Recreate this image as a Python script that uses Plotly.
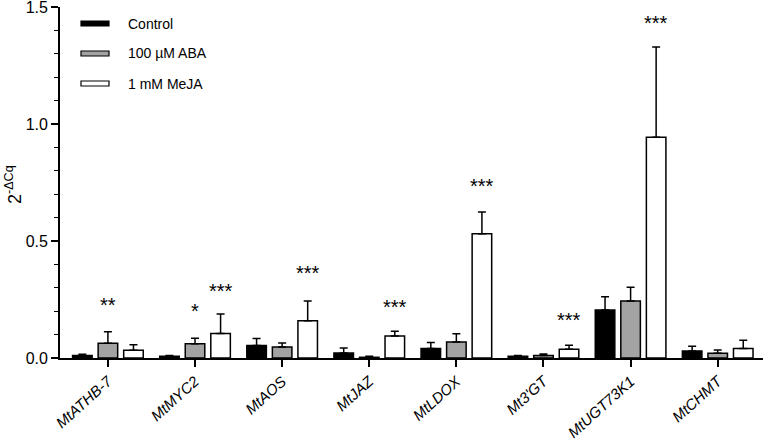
import plotly.graph_objects as go

genes = ["MtATHB-7", "MtMYC2", "MtAOS", "MtJAZ", "MtLDOX", "Mt3'GT", "MtUGT73K1", "MtCHMT"]
series_names = ["Control", "100 µM ABA", "1 mM MeJA"]

control = [0.011, 0.007, 0.053, 0.021, 0.041, 0.007, 0.205, 0.030]
control_err = [0.005, 0.004, 0.030, 0.022, 0.025, 0.004, 0.057, 0.020]
aba = [0.063, 0.061, 0.047, 0.003, 0.068, 0.011, 0.244, 0.020]
aba_err = [0.049, 0.023, 0.017, 0.005, 0.036, 0.006, 0.058, 0.014]
meja = [0.033, 0.105, 0.159, 0.094, 0.531, 0.037, 0.944, 0.041]
meja_err = [0.024, 0.083, 0.085, 0.020, 0.093, 0.017, 0.385, 0.035]

# significance marks: (gene index, series index, text, y position)
sig_gene = [0, 1, 1, 2, 3, 4, 5, 6]
sig_series = [1, 1, 2, 2, 2, 2, 2, 2]
sig_text = ["**", "*", "***", "***", "***", "***", "***", "***"]
sig_y = [0.225, 0.200, 0.285, 0.362, 0.218, 0.735, 0.164, 1.434]

y_ticks = [0.0, 0.5, 1.0, 1.5]
y_ticktext = ["0.0", "0.5", "1.0", "1.5"]

fills = ["#000000", "#a3a3a3", "#ffffff"]
values = [control, aba, meja]
errors = [control_err, aba_err, meja_err]

x_idx = list(range(len(genes)))

fig = go.Figure()
for name, v, e, c in zip(series_names, values, errors, fills):
    fig.add_trace(go.Bar(
        x=x_idx, y=v, name=name, showlegend=False,
        marker=dict(color=c, line=dict(color="#000000", width=1.5)),
        error_y=dict(type="data", array=e, arrayminus=[0] * len(e), symmetric=False,
                     color="#000000", thickness=1.5, width=4),
    ))

# significance stars via offsets
bargap = 0.12
slot = (1 - bargap) / 3
for g, s, t, yv in zip(sig_gene, sig_series, sig_text, sig_y):
    fig.add_annotation(x=g + (s - 1) * slot, y=yv, text=t, showarrow=False,
                       xref="x", yref="y", yanchor="middle",
                       font=dict(size=20, color="#000000", family="Liberation Sans, Arial"))

# manual legend
W, H = 765, 440
ml, mr, mt, mb = 60, 2, 7, 82
pw, ph = W - ml - mr, H - mt - mb
def px(x):
    return (x - ml) / pw
def py(y):
    return (H - mb - y) / ph
for i, (name, c) in enumerate(zip(series_names, fills)):
    yc = 23.5 + 30 * i
    fig.add_shape(type="rect", xref="paper", yref="paper",
                  x0=px(81), x1=px(109), y0=py(yc + 2.5), y1=py(yc - 2.5),
                  fillcolor=c, line=dict(color="#000000", width=1.2))
    fig.add_annotation(xref="paper", yref="paper", x=px(126), y=py(yc), text=name,
                       showarrow=False, xanchor="left", yanchor="middle",
                       font=dict(size=14, color="#000000", family="Liberation Sans, Arial"))

# y-axis title as annotation
fig.add_annotation(xref="paper", yref="paper", x=px(13), y=py(185), text="2<sup>-ΔCq</sup>",
                   showarrow=False, textangle=-90, xanchor="center", yanchor="middle",
                   font=dict(size=18, color="#000000", family="Liberation Sans, Arial"))

fig.update_layout(
    width=W, height=H,
    margin=dict(l=ml, r=mr, t=mt, b=mb),
    paper_bgcolor="white", plot_bgcolor="white",
    barmode="group", bargap=bargap, bargroupgap=0.235,
    font=dict(family="Liberation Sans, Arial", color="#000000", size=14),
    xaxis=dict(
        tickmode="array", tickvals=x_idx, ticktext=genes, automargin=False,
        range=[-0.55, 7.52], showline=True, linecolor="#000000", linewidth=1.8,
        ticks="outside", ticklen=7, tickwidth=1.5, tickcolor="#000000",
        tickangle=-42, tickfont=dict(size=15, style="italic"),
        showgrid=False, zeroline=False, ticklabeloverflow="allow",
    ),
    yaxis=dict(
        range=[0, 1.5005], tickmode="array", tickvals=y_ticks, ticktext=y_ticktext,
        automargin=False, ticklabeloverflow="allow",
        showline=True, linecolor="#000000", linewidth=1.8,
        ticks="outside", ticklen=7, tickwidth=1.5, tickcolor="#000000",
        minor=dict(dtick=0.1, ticks="outside", ticklen=4, tickwidth=1.2, tickcolor="#000000"),
        tickfont=dict(size=16),
        showgrid=False, zeroline=False,
    ),
)

fig.write_html("out.html", config={"displayModeBar": False},
               post_script="document.body.style.margin='0';document.body.style.overflow='hidden';")
